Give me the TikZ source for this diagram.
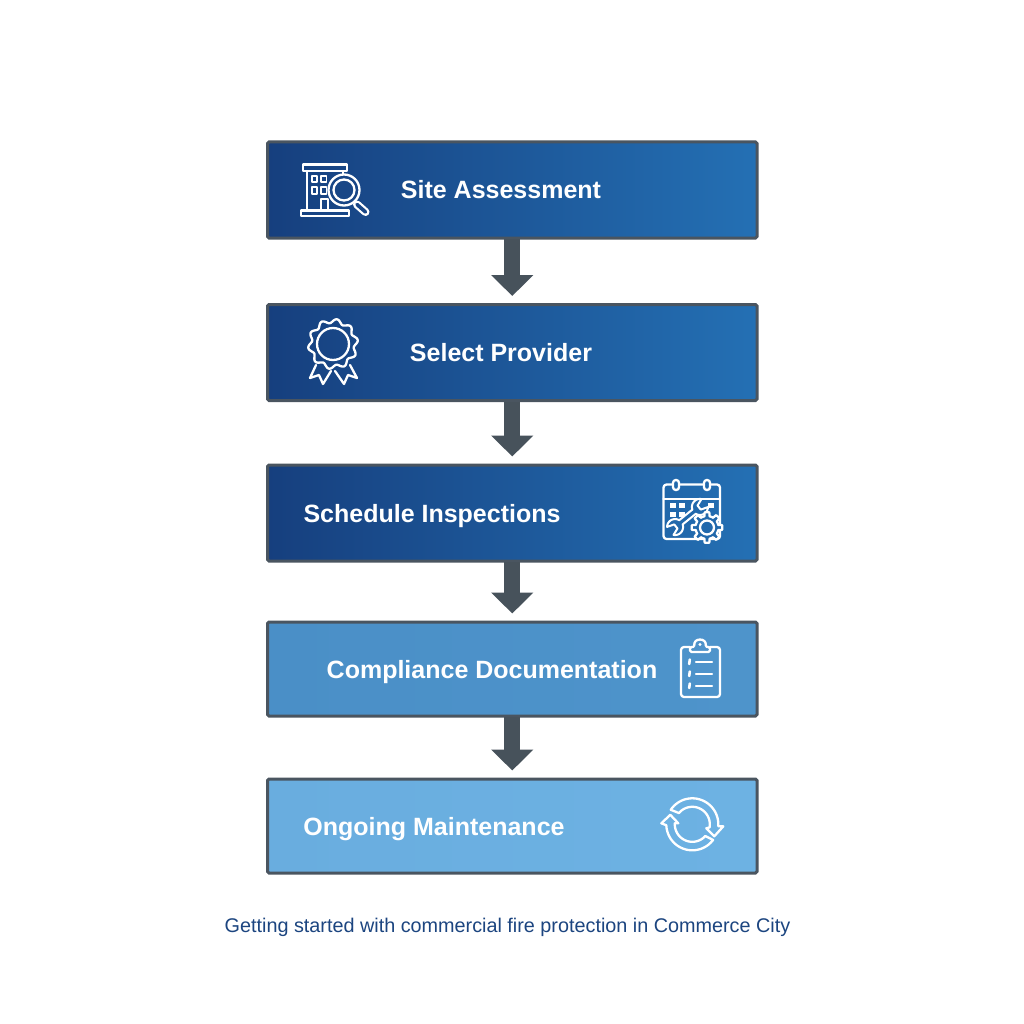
\documentclass[tikz,border=0pt]{standalone}
\usepackage{fontspec}
\setmainfont{Liberation Sans}
\usetikzlibrary{arrows.meta}
\definecolor{edge}{HTML}{4A5560}
\definecolor{arrowc}{HTML}{47525B}
\definecolor{capc}{HTML}{1C4580}
\definecolor{darkL}{HTML}{163F7E}
\definecolor{darkR}{HTML}{2470B4}
\definecolor{midL}{HTML}{4A8FC7}
\definecolor{midR}{HTML}{4E94CB}
\definecolor{lightL}{HTML}{69ADDF}
\definecolor{lightR}{HTML}{6DB2E3}
\colorlet{bgA}{darkL!85!darkR}
\colorlet{bgC}{darkR!86!darkL}
\tikzset{
 x=1pt,y=-1pt,
 stepbox/.style={draw=edge,line width=3pt,rounded corners=1.5pt,minimum width=489.5pt,inner sep=0pt,outer sep=0pt,anchor=north west},
 darkbox/.style={stepbox,left color=darkL,right color=darkR},
 midbox/.style={stepbox,left color=midL,right color=midR},
 lightbox/.style={stepbox,left color=lightL,right color=lightR},
 steplabel/.style={text=white,font=\fontsize{25}{30}\selectfont\bfseries,inner sep=0pt,anchor=base},
 flow/.style={draw=arrowc,line width=16pt,-{Triangle[width=41pt,length=21pt,fill=arrowc]},shorten >=8.5pt,shorten <=1pt},
 icon/.style={draw=white,line width=2.3pt,line cap=round,line join=round},
 icont/.style={draw=white,line width=1.8pt,line cap=round,line join=round},
}
\begin{document}
\begin{tikzpicture}
\useasboundingbox (0,0) rectangle (1024,1024);
\fill[white] (0,0) rectangle (1024,1024);
% boxes
\node[darkbox,minimum height=96pt] (b1) at (267.5,142) {};
\node[darkbox,minimum height=96pt] (b2) at (267.5,304.5) {};
\node[darkbox,minimum height=96pt] (b3) at (267.5,465) {};
\node[midbox,minimum height=94pt] (b4) at (267.5,622) {};
\node[lightbox,minimum height=94pt] (b5) at (267.5,779) {};
% connectors
\draw[flow] (b1.south) -- (b2.north);
\draw[flow] (b2.south) -- (b3.north);
\draw[flow] (b3.south) -- (b4.north);
\draw[flow] (b4.south) -- (b5.north);
% labels
\node[steplabel] (t1) at (501,199) {Site Assessment};
\node[steplabel] (t2) at (501,361) {Select Provider};
\node[steplabel] (t3) at (432,522) {Schedule Inspections};
\node[steplabel] (t4) at (492,678) {Compliance Documentation};
\node[steplabel] (t5) at (434,835) {Ongoing Maintenance};
\node[text=capc,font=\fontsize{19.8}{24}\selectfont,inner sep=0pt,anchor=base] (cap) at (507.5,932) {Getting started with commercial fire protection in Commerce City};
% icon 1: building and magnifier
\draw[icon] (303,164.5) rectangle (347,171);
\draw[icon] (301,210.5) rectangle (349,216);
\draw[icon] (307,171) -- (307,210.5);
\draw[icon] (343,171) -- (343,178);
\draw[icont] (312,176) rectangle (317,182);
\draw[icont] (321,176) rectangle (326.5,182);
\draw[icont] (312,187) rectangle (317,194);
\draw[icont] (321,187) rectangle (326.5,194);
\draw[icon] (321,210.5) -- (321,199) -- (328,199) -- (328,210.5);
\draw[icon,fill=bgA] (344,190) circle (15.5);
\draw[icon] (344,190) circle (10.5);
\draw[line width=8pt,white,line cap=round] (357,204.5) -- (365.5,212);
\draw[line width=3.6pt,bgA,line cap=round] (357,204.5) -- (365.5,212);
% icon 2: rosette
\draw[icon,samples=181,domain=0:360] plot ({333+(23+2*cos(10*\x+90))*cos(\x)},{344+(23+2*cos(10*\x+90))*sin(\x)}) -- cycle;
\draw[icon] (333,344) circle (16);
\draw[icon] (316,365) -- (310,378) -- (319,375) -- (323,384) -- (331,371);
\draw[icon] (350,365) -- (357,378) -- (348,375) -- (344,384) -- (335,371);
% icon 3: calendar, wrench, gear
\draw[icon,rounded corners=3pt] (663.5,484.5) rectangle (720,539);
\draw[icon] (663.5,499) -- (720,499);
\draw[icon,fill=bgC,rounded corners=2.8pt] (673,480) rectangle (679,490);
\draw[icon,fill=bgC,rounded corners=2.8pt] (704,480) rectangle (710,490);
\foreach \cx/\cy in {669.5/503,678.5/503,669.5/512,678.5/512,708/503}{
  \fill[white] (\cx,\cy) rectangle ++(6,5);}
\begin{scope}[shift={(687.5,517)},rotate=39]
\draw[icon,fill=bgC,line width=2pt]
  (-8,-2.7) -- (8,-2.7)
  -- plot[samples=25,domain=200:320] ({16+8*cos(\x)},{8*sin(\x)})
  -- (15,-2.6) -- (15,2.6)
  -- plot[samples=25,domain=40:160] ({16+8*cos(\x)},{8*sin(\x)})
  -- (8,2.7) -- (-8,2.7)
  -- plot[samples=25,domain=20:140] ({-16+8*cos(\x)},{8*sin(\x)})
  -- (-15,2.6) -- (-15,-2.6)
  -- plot[samples=25,domain=220:340] ({-16+8*cos(\x)},{8*sin(\x)})
  -- cycle;
\end{scope}
\draw[icon,fill=bgC,samples=361,domain=0:360] plot ({707+(11.5+3.8*min(1,max(0,1.6*cos(8*\x)+0.4)))*cos(\x)},{527.5+(11.5+3.8*min(1,max(0,1.6*cos(8*\x)+0.4)))*sin(\x)}) -- cycle;
\draw[icon] (707,527.5) circle (7);
% icon 4: clipboard
\draw[icon,rounded corners=3pt] (690,647) -- (681,647) -- (681,697) -- (720,697) -- (720,647) -- (710,647);
\draw[icon,rounded corners=1.5pt] (690,652) -- (690,647) -- (694.5,647) .. controls (693,637.5) and (707,637.5) .. (705.5,647) -- (710,647) -- (710,652) -- cycle;
\fill[white] (700,644.5) circle (1.6);
\foreach \yy in {662,674,686}{
  \draw[icon] (696,\yy) -- (712,\yy);
  \draw[icon,line width=2.6pt] (689.8,\yy-2.5) -- (689.2,\yy+2);}
% icon 5: cycle arrows
\begin{scope}[shift={(692.3,824.3)}]
\draw[icon,samples=40,domain=-146:4] plot ({26*cos(\x)},{26*sin(\x)})
  -- (31,2) -- (22,12) -- (14,4) -- (17.5,3)
  -- plot[domain=10:-140] ({17.5*cos(\x)},{17.5*sin(\x)}) -- cycle;
\draw[icon,samples=40,domain=37:178] plot ({26*cos(\x)},{26*sin(\x)})
  -- (-31,-1) -- (-22,-9.5) -- (-14,-1) -- (-17.5,-1)
  -- plot[domain=178:42] ({17.5*cos(\x)},{17.5*sin(\x)}) -- cycle;
\end{scope}
\end{tikzpicture}
\end{document}
